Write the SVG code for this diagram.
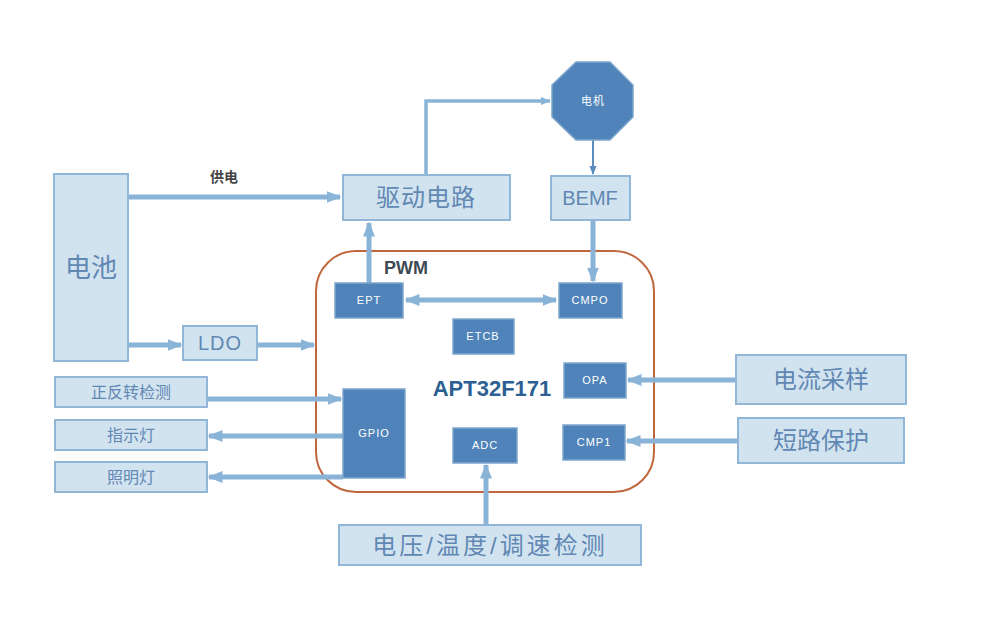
<svg xmlns="http://www.w3.org/2000/svg" width="997" height="620" viewBox="0 0 997 620">
<defs>
<style>
.lb{fill:#d2e3f0;stroke:#92b6d7;stroke-width:2}
.db{fill:#4f83b9;stroke:#7ea6cc;stroke-width:1.5}
.lt{font-family:"Liberation Sans","Noto Sans CJK SC",sans-serif;fill:#6188b3;text-anchor:middle;dominant-baseline:central}
.dt{font-family:"Liberation Sans","Noto Sans CJK SC",sans-serif;fill:#ffffff;text-anchor:middle;dominant-baseline:central;font-size:11px;letter-spacing:1px}
.c{stroke:#89b3d7;fill:none;stroke-width:5}
.c2{stroke:#89b3d7;fill:none;stroke-width:3.5}
</style>
<marker id="ah" viewBox="0 0 10 10" refX="9" refY="5" markerWidth="3" markerHeight="3" orient="auto-start-reverse" markerUnits="strokeWidth">
<path d="M0,1 L10,5 L0,9 z" fill="#89b3d7"/>
</marker>
<marker id="ah2" viewBox="0 0 10 10" refX="9" refY="5" markerWidth="4.5" markerHeight="4.5" orient="auto-start-reverse" markerUnits="strokeWidth">
<path d="M0,1 L10,5 L0,9 z" fill="#5b8dc0"/>
</marker>
</defs>
<rect width="997" height="620" fill="#ffffff"/>

<g id="mcu">
<rect x="316" y="251" width="338" height="241" rx="40" fill="none" stroke="#c0663c" stroke-width="2"/>
<text x="406" y="268" font-family="Liberation Sans,sans-serif" font-weight="bold" font-size="18" fill="#3f4a55" text-anchor="middle" dominant-baseline="central">PWM</text>
<text x="492" y="388" font-family="Liberation Sans,sans-serif" font-weight="bold" font-size="22" fill="#2e5f92" text-anchor="middle" dominant-baseline="central">APT32F171</text>
</g>

<g id="connectors">
<path class="c" d="M128,197 H340" marker-end="url(#ah)"/>
<path class="c2" d="M426,175 V101 H550" marker-end="url(#ah)"/>
<path d="M593,140 V174" stroke="#5b8dc0" stroke-width="2" fill="none" marker-end="url(#ah2)"/>
<path class="c" d="M593,220 V281" marker-end="url(#ah)"/>
<path class="c" d="M369,283 V223" marker-end="url(#ah)"/>
<path class="c" d="M406,300 H556" marker-start="url(#ah)" marker-end="url(#ah)"/>
<path class="c" d="M128,345 H181" marker-end="url(#ah)"/>
<path class="c" d="M257,345 H314" marker-end="url(#ah)"/>
<path class="c" d="M207,399 H341" marker-end="url(#ah)"/>
<path class="c" d="M343,436 H209" marker-end="url(#ah)"/>
<path class="c" d="M343,477 H209" marker-end="url(#ah)"/>
<path class="c" d="M736,380 H628" marker-end="url(#ah)"/>
<path class="c" d="M738,441 H627" marker-end="url(#ah)"/>
<path class="c" d="M486,525 V465" marker-end="url(#ah)"/>
<text x="224" y="177" font-family="Liberation Sans,Noto Sans CJK SC,sans-serif" font-weight="bold" font-size="14" fill="#454545" text-anchor="middle" dominant-baseline="central">供电</text>
</g>

<g id="battery"><rect class="lb" x="54" y="174" width="74" height="187"/><text class="lt" x="91" y="268" font-size="26">电池</text></g>
<g id="driver"><rect class="lb" x="343" y="175" width="167" height="45"/><text class="lt" x="426" y="197" font-size="24" letter-spacing="1">驱动电路</text></g>
<g id="motor"><polygon points="576,62 610,62 633,85 633,117 610,140 576,140 552,117 552,85" fill="#4f83b9" stroke="#7ea6cc" stroke-width="1.5"/><text class="dt" x="593" y="101" font-size="12">电机</text></g>
<g id="bemf"><rect class="lb" x="551" y="176" width="79" height="44"/><text class="lt" x="590" y="198" font-size="20">BEMF</text></g>
<g id="ldo"><rect class="lb" x="183" y="326" width="74" height="34"/><text class="lt" x="220" y="343" font-size="20" letter-spacing="1">LDO</text></g>
<g id="ept"><rect class="db" x="335" y="283" width="68" height="35"/><text class="dt" x="369" y="300">EPT</text></g>
<g id="cmpo"><rect class="db" x="559" y="283" width="63" height="35"/><text class="dt" x="590" y="300">CMPO</text></g>
<g id="etcb"><rect class="db" x="453" y="319" width="61" height="35"/><text class="dt" x="483" y="336">ETCB</text></g>
<g id="opa"><rect class="db" x="564" y="363" width="62" height="35"/><text class="dt" x="595" y="380">OPA</text></g>
<g id="cmp1"><rect class="db" x="563" y="425" width="62" height="35"/><text class="dt" x="594" y="442">CMP1</text></g>
<g id="adc"><rect class="db" x="453" y="428" width="64" height="35"/><text class="dt" x="485" y="445">ADC</text></g>
<g id="gpio"><rect class="db" x="343" y="389" width="62" height="89"/><text class="dt" x="374" y="433" letter-spacing="2">GPIO</text></g>
<g id="dir"><rect class="lb" x="55" y="377" width="152" height="30"/><text class="lt" x="131" y="392" font-size="16">正反转检测</text></g>
<g id="ind"><rect class="lb" x="55" y="420" width="152" height="30"/><text class="lt" x="131" y="435" font-size="16">指示灯</text></g>
<g id="light"><rect class="lb" x="55" y="462" width="152" height="30"/><text class="lt" x="131" y="477" font-size="16">照明灯</text></g>
<g id="cur"><rect class="lb" x="736" y="355" width="170" height="49"/><text class="lt" x="821" y="379" font-size="24">电流采样</text></g>
<g id="short"><rect class="lb" x="738" y="418" width="166" height="45"/><text class="lt" x="821" y="440" font-size="24">短路保护</text></g>
<g id="sense"><rect class="lb" x="339" y="525" width="302" height="40"/><text class="lt" x="490" y="545" font-size="24" letter-spacing="3">电压/温度/调速检测</text></g>
</svg>
